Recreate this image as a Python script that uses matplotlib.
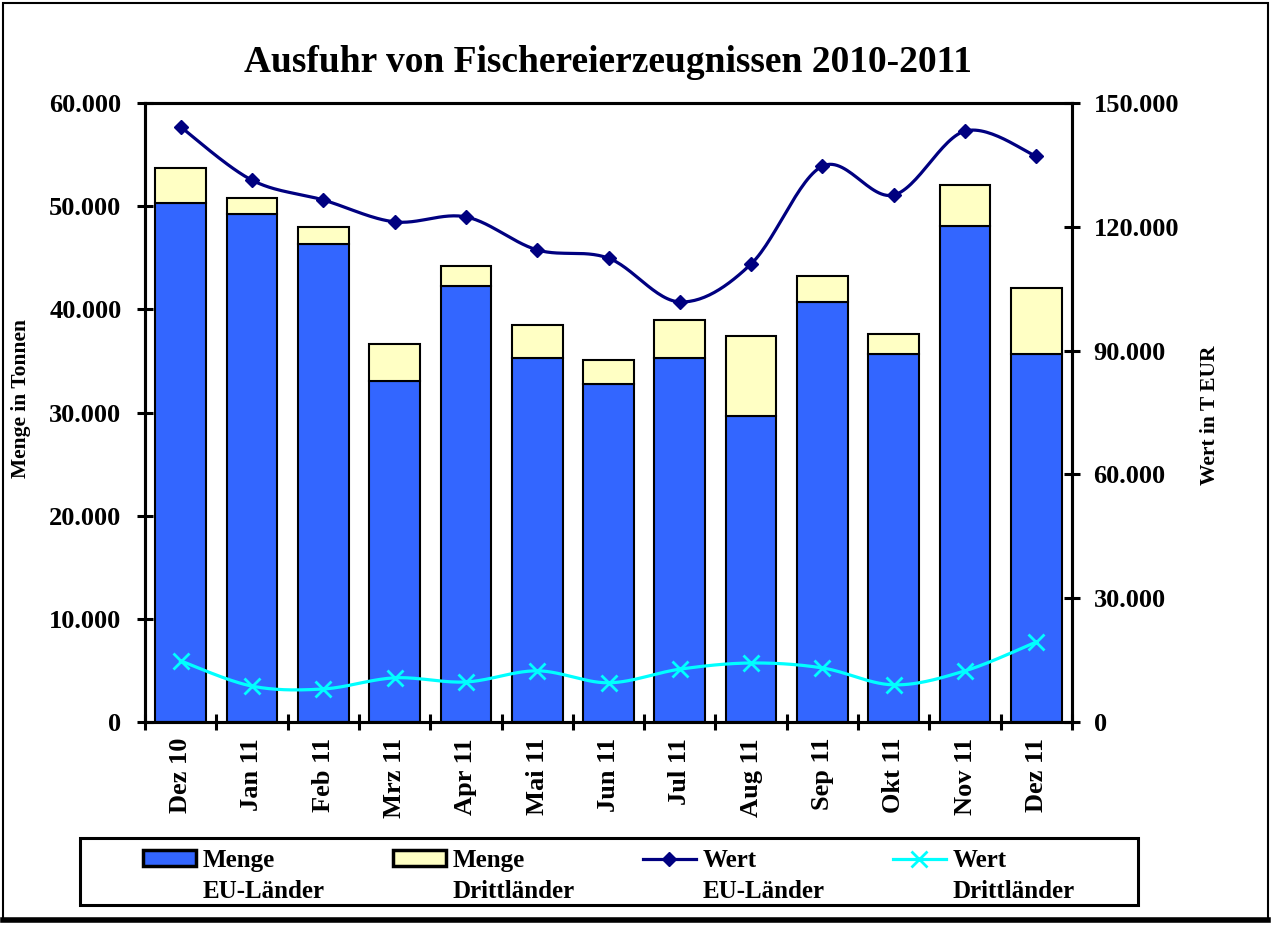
import numpy as np
import matplotlib
matplotlib.use('Agg')
import matplotlib.pyplot as plt
from matplotlib.patches import Rectangle, Patch
from matplotlib.lines import Line2D

# Data
months = ['Dez 10', 'Jan 11', 'Feb 11', 'Mrz 11', 'Apr 11', 'Mai 11', 'Jun 11',
          'Jul 11', 'Aug 11', 'Sep 11', 'Okt 11', 'Nov 11', 'Dez 11']
menge_eu = [50300, 49200, 46300, 33100, 42300, 35300, 32800, 35300, 29700, 40700, 35700, 48100, 35700]
menge_dritt = [3400, 1600, 1700, 3500, 1900, 3200, 2300, 3700, 7700, 2500, 1900, 4000, 6400]
wert_eu = [144200, 131300, 126500, 121200, 122400, 114400, 112400, 101800, 111000, 134700, 127700, 143200, 137100]
wert_dritt = [14800, 8700, 8000, 10700, 9700, 12400, 9500, 12800, 14300, 13100, 9000, 12400, 19400]

left_ticks = [0, 10000, 20000, 30000, 40000, 50000, 60000]
right_ticks = [0, 30000, 60000, 90000, 120000, 150000]

legend_first = ['Menge', 'Menge', 'Wert', 'Wert']
legend_second = ['EU-Länder', 'Drittländer', 'EU-Länder', 'Drittländer']

FONT = 'Liberation Serif'
plt.rcParams['font.family'] = FONT
plt.rcParams['font.weight'] = 'bold'
plt.rcParams['axes.titleweight'] = 'bold'
plt.rcParams['axes.labelweight'] = 'bold'

BLUE = '#3366FF'
YELLOW = '#FFFFC4'
NAVY = '#000080'
CYAN = '#00FFFF'


def smooth(xs, ys, n=30):
    # Catmull-Rom style bezier smoothing (like the spreadsheet "smoothed line")
    xs = np.asarray(xs, float)
    ys = np.asarray(ys, float)
    px = np.concatenate([[xs[0]], xs, [xs[-1]]])
    py = np.concatenate([[ys[0]], ys, [ys[-1]]])
    ox, oy = [], []
    t = np.linspace(0, 1, n)
    for i in range(1, len(px) - 2):
        p0 = np.array([px[i], py[i]])
        p3 = np.array([px[i + 1], py[i + 1]])
        p1 = p0 + (np.array([px[i + 1], py[i + 1]]) - np.array([px[i - 1], py[i - 1]])) / 6
        p2 = p3 - (np.array([px[i + 2], py[i + 2]]) - np.array([px[i], py[i]])) / 6
        for tt in t:
            b = ((1 - tt) ** 3) * p0 + 3 * ((1 - tt) ** 2) * tt * p1 + 3 * (1 - tt) * tt ** 2 * p2 + tt ** 3 * p3
            ox.append(b[0])
            oy.append(b[1])
    return ox, oy


def fmt(v):
    return f"{v:,.0f}".replace(',', '.')


fig = plt.figure(figsize=(12.71, 9.26), dpi=100)
ax = fig.add_axes([145 / 1271, 1 - 722 / 926, 927 / 1271, 619 / 926])

x = np.arange(len(months))
ax.bar(x, menge_eu, 0.71, color=BLUE, edgecolor='black', linewidth=1.5, zorder=2)
ax.bar(x, menge_dritt, 0.71, bottom=menge_eu, color=YELLOW, edgecolor='black', linewidth=1.5, zorder=2)

ax.set_xlim(-0.5, len(months) - 0.5)
ax.set_ylim(0, 60000)
ax.set_yticks(left_ticks)
ax.set_yticklabels([fmt(v) for v in left_ticks], fontsize=19)
ax.tick_params(axis='y', direction='inout', length=11, width=2.2, pad=11.5)

ax.set_xticks(np.arange(-0.5, len(months)), [])
ax.set_xticks(x, months, minor=True, rotation=90, fontsize=19)
ax.tick_params(axis='x', which='major', direction='inout', length=11, width=2.2)
ax.tick_params(axis='x', which='minor', length=0, pad=11.5)
for lbl in ax.get_xticklabels(minor=True):
    lbl.set_va('top')

for s in ax.spines.values():
    s.set_linewidth(2.2)

ax.set_ylabel('Menge in Tonnen', fontsize=15.5)
ax.yaxis.set_label_coords(-0.123, 0.522)

ax2 = ax.twinx()
ax2.set_ylim(0, 150000)
ax2.set_yticks(right_ticks)
ax2.set_yticklabels([fmt(v) for v in right_ticks], fontsize=19)
ax2.tick_params(axis='y', direction='inout', length=11, width=2.2, pad=10)
for s in ax2.spines.values():
    s.set_linewidth(2.2)

sx, sy = smooth(x, wert_eu)
ax2.plot(sx, sy, color=NAVY, linewidth=2.3, zorder=3)
ax2.plot(x, wert_eu, linestyle='none', marker='D', markersize=7, color=NAVY, zorder=4)
sx, sy = smooth(x, wert_dritt)
ax2.plot(sx, sy, color=CYAN, linewidth=2.3, zorder=3)
ax2.plot(x, wert_dritt, linestyle='none', marker='x', markersize=11, markeredgewidth=2, color=CYAN, zorder=4)

ax2.set_ylabel('Wert in T EUR', fontsize=15.5)
ax2.yaxis.set_label_coords(1.138, 0.496)

ax.set_title('Ausfuhr von Fischereierzeugnissen 2010-2011', fontsize=27, pad=22)

# legend box
fig.patches.append(Rectangle((80 / 1271, 1 - 905 / 926), 1058 / 1271, 67 / 926,
                             transform=fig.transFigure, fill=False, edgecolor='black',
                             linewidth=2.2, zorder=5))
handles = [
    Patch(facecolor=BLUE, edgecolor='black', linewidth=2.5),
    Patch(facecolor=YELLOW, edgecolor='black', linewidth=2.5),
    Line2D([], [], color=NAVY, linewidth=2.3, marker='D', markersize=7),
    Line2D([], [], color=CYAN, linewidth=2.3, marker='x', markersize=11, markeredgewidth=2),
]
col_x = [143, 393, 643, 893]
legends = []
for h, lab, cx in zip(handles, legend_first, col_x):
    lg = fig.legend([h], [lab], frameon=False, loc='upper left',
                    bbox_to_anchor=(cx / 1271, 1 - 849 / 926),
                    borderpad=0, borderaxespad=0, fontsize=18, handlelength=2.1,
                    handleheight=0.6, handletextpad=0.28)
    legends.append(lg)

# second line of each legend label
fig.canvas.draw()
inv = fig.transFigure.inverted()
for lg, s in zip(legends, legend_second):
    bb = lg.get_texts()[0].get_window_extent()
    fx, fy = inv.transform((bb.x0, bb.y0 - 8))
    fig.text(fx, fy, s, fontsize=18, va='top', ha='left')

# outer frame of the picture
fig.patches.append(Rectangle((3 / 1271, 1 - 920 / 926), 1265 / 1271, 917 / 926,
                             transform=fig.transFigure, fill=False, edgecolor='black',
                             linewidth=1.5, zorder=5))
fig.add_artist(Line2D([3 / 1271, 1268 / 1271], [1 - 920 / 926, 1 - 920 / 926],
                      transform=fig.transFigure, color='black', linewidth=4))

plt.savefig('out.png', dpi=100)
